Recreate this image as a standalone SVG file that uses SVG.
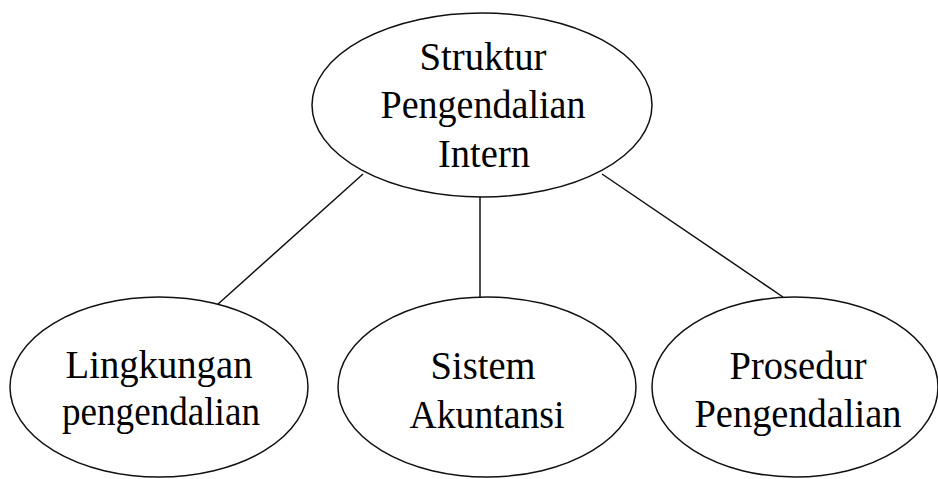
<svg xmlns="http://www.w3.org/2000/svg" width="938" height="479" viewBox="0 0 938 479">
<style>
.n{fill:#fff;stroke:#111;stroke-width:1.5}
.c line{stroke:#111;stroke-width:1.5}
text{font-family:"Liberation Serif","Times New Roman",serif;font-size:41px;fill:#000;text-anchor:middle}
</style>
<rect width="938" height="479" fill="#fff"/>
<g class="c" id="connectors">
<line x1="363" y1="174" x2="217" y2="305"/>
<line x1="480" y1="196" x2="480" y2="297"/>
<line x1="602" y1="174" x2="783" y2="297"/>
</g>
<g id="root">
<ellipse class="n" cx="482" cy="105" rx="170" ry="92"/>
<text x="483" y="70" textLength="127" lengthAdjust="spacingAndGlyphs">Struktur</text>
<text x="483" y="118" textLength="205" lengthAdjust="spacingAndGlyphs">Pengendalian</text>
<text x="484" y="167" textLength="92" lengthAdjust="spacingAndGlyphs">Intern</text>
</g>
<g id="lingkungan">
<ellipse class="n" cx="159" cy="387" rx="149" ry="90"/>
<text x="159" y="378" textLength="187" lengthAdjust="spacingAndGlyphs">Lingkungan</text>
<text x="161" y="425" textLength="198" lengthAdjust="spacingAndGlyphs">pengendalian</text>
</g>
<g id="sistem">
<ellipse class="n" cx="487" cy="387" rx="149" ry="90"/>
<text x="483" y="379" textLength="105" lengthAdjust="spacingAndGlyphs">Sistem</text>
<text x="487" y="428" textLength="155" lengthAdjust="spacingAndGlyphs">Akuntansi</text>
</g>
<g id="prosedur">
<ellipse class="n" cx="795" cy="387" rx="143" ry="90"/>
<text x="798" y="379" textLength="137" lengthAdjust="spacingAndGlyphs">Prosedur</text>
<text x="798" y="427" textLength="207" lengthAdjust="spacingAndGlyphs">Pengendalian</text>
</g>
</svg>
